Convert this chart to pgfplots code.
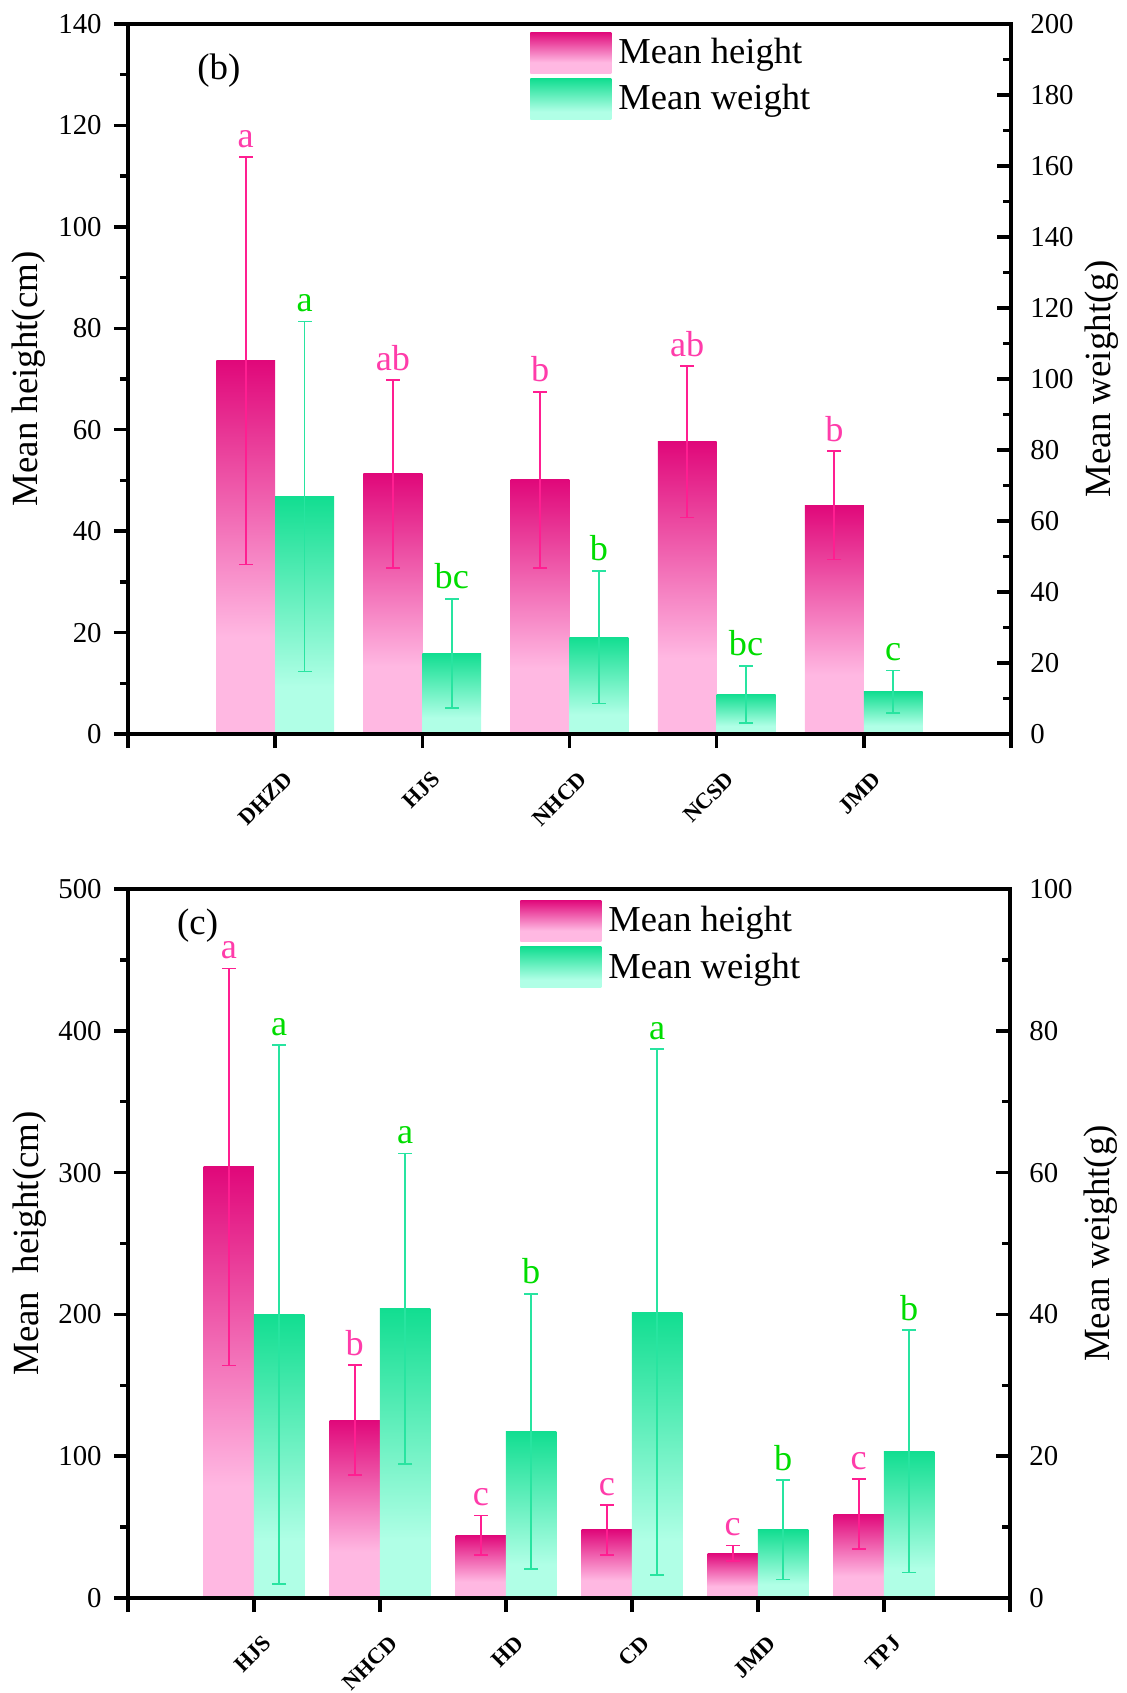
\documentclass[border=0pt]{standalone}
\usepackage{pgfplots}
\usepackage{pgfplotstable}
\pgfplotsset{compat=1.18}
\usetikzlibrary{plotmarks}
\usepackage{fontspec}
\setmainfont{Liberation Serif}

\definecolor{pinkdark}{RGB}{224,8,122}
\definecolor{pinklight}{RGB}{255,184,226}
\definecolor{greendark}{RGB}{18,222,145}
\definecolor{greenlight}{RGB}{176,255,230}
\definecolor{pinkerr}{RGB}{255,30,145}
\definecolor{greenerr}{RGB}{40,228,160}
\definecolor{pinklet}{RGB}{255,60,170}
\definecolor{greenlet}{RGB}{0,220,0}

\pgfdeclareverticalshading{pinkshade}{100bp}{color(0bp)=(pinklight); color(25bp)=(pinklight); color(38bp)=(pinklight); color(75bp)=(pinkdark); color(100bp)=(pinkdark)}
\pgfdeclareverticalshading{greenshade}{100bp}{color(0bp)=(greenlight); color(25bp)=(greenlight); color(35bp)=(greenlight); color(75bp)=(greendark); color(100bp)=(greendark)}

% panel (b)
\pgfplotstableread{
x h he w we hl wl
1 73.6 40.2 66.9 49.3 a a
2 51.3 18.5 22.7 15.4 ab bc
3 50.1 17.4 27.3 18.7 b b
4 57.6 14.9 11.2 8.0 ab bc
5 45.1 10.7 11.9 6.0 b c
}\tabB
% panel (c)
\pgfplotstableread{
x h he w we hl wl
1 304.0 140.0 40.0 38.0 a a
2 125.5 38.8 40.8 21.9 b a
3 44.3 13.8 23.5 19.4 c b
4 48.0 17.6 40.3 37.1 c a
5 31.5 5.6 9.6 7.0 c b
6 59.2 24.7 20.7 17.1 c b
}\tabC

\pgfplotsset{
  base/.style={
    scale only axis, anchor=south west,
    axis on top,
    tick align=outside,
    major tick length=0.14cm, minor tick length=0.08cm,
    every tick/.style={black, line width=1pt},
    axis line style={line width=1pt},
    yticklabel style={font=\fontsize{8.2}{9}\selectfont},
    /pgf/number format/assume math mode=true,
    label style={font=\fontsize{10.5}{12}\selectfont},
    minor y tick num=1,
  },
  leftax/.style={
    base, xtick pos=left, ytick pos=left,
    xticklabel style={xshift=0.14cm, yshift=-0.27cm, rotate=45, anchor=east, inner sep=0pt,
      font=\bfseries\fontsize{6.4}{7}\selectfont},
    ylabel style={at={(axis description cs:-0.112,0.5)}, anchor=center},
  },
  rightax/.style={
    base, axis x line*=bottom, xtick=\empty,
    axis y line*=right, ytick pos=right, tick align=inside,
    yticklabel style={xshift=0.07cm},
    ylabel style={at={(axis description cs:1.103,0.5)}, anchor=center},
    legend cell align=left,
  },
  pinkbar/.style={ybar, bar width=0.4, bar shift=-0.2, draw=none, /tikz/shade, /tikz/shading=pinkshade, forget plot},
  greenbar/.style={ybar, bar width=0.4, bar shift=0.2, draw=none, /tikz/shade, /tikz/shading=greenshade, forget plot},
  errp/.style={draw=none, mark=none, forget plot,
    error bars/.cd, y dir=both, y explicit, error mark=none,
    error bar style={draw=#1, line width=0.5pt}},
  capp/.style={#1, only marks, mark=-, mark size=2pt, mark options={line width=0.5pt}, forget plot},
  letp/.style={draw=none, mark=none, forget plot, nodes near coords, point meta=explicit symbolic,
    nodes near coords style={anchor=south, text=#1, font=\fontsize{10.3}{12}\selectfont, inner sep=0pt, yshift=2.5pt}},
  legsty/.style={legend style={at={(axis description cs:#1)}, anchor=north west, draw=none, fill=none,
    inner sep=0pt, row sep=0.02cm, font=\fontsize{10.4}{12}\selectfont}},
}

\begin{document}
\begin{tikzpicture}
\path[use as bounding box] (0,0) rectangle (11.27cm,16.93cm);

% ---------------- panel (b) ----------------
\begin{axis}[leftax, at={(1.28cm,9.59cm)}, width=8.83cm, height=7.10cm,
  xmin=0, xmax=6, ymin=0, ymax=140, ytick={0,20,...,140},
  xtick={0,...,6}, xticklabels={,DHZD,HJS,NHCD,NCSD,JMD,},
  ylabel={Mean height(cm)}]
\pgfplotsinvokeforeach{1,...,5}{
  \addplot[pinkbar, restrict x to domain=#1:#1] table[x=x, y=h] \tabB;
}
\addplot[errp=pinkerr] table[x expr=\thisrow{x}-0.2, y=h, y error=he] \tabB;
\addplot[capp=pinkerr] table[x expr=\thisrow{x}-0.2, y expr=\thisrow{h}+\thisrow{he}] \tabB;
\addplot[capp=pinkerr] table[x expr=\thisrow{x}-0.2, y expr=\thisrow{h}-\thisrow{he}] \tabB;
\addplot[letp=pinklet] table[x expr=\thisrow{x}-0.2, y expr=\thisrow{h}+\thisrow{he}, meta=hl] \tabB;
\node[font=\fontsize{10.5}{12}\selectfont] at (axis description cs:0.103,0.934) {(b)};
\end{axis}
\begin{axis}[rightax, at={(1.28cm,9.59cm)}, width=8.83cm, height=7.10cm,
  xmin=0, xmax=6, ymin=0, ymax=200, ytick={0,20,...,200},
  ylabel={Mean weight(g)}, legsty={0.455,0.9915}]
\addlegendimage{legend image code/.code={\path[draw=none, shade, shading=pinkshade] (0cm,-0.2cm) rectangle (0.81cm,0.21cm);}}
\addlegendentry{Mean height}
\addlegendimage{legend image code/.code={\path[draw=none, shade, shading=greenshade] (0cm,-0.2cm) rectangle (0.81cm,0.21cm);}}
\addlegendentry{Mean weight}
\pgfplotsinvokeforeach{1,...,5}{
  \addplot[greenbar, restrict x to domain=#1:#1] table[x=x, y=w] \tabB;
}
\addplot[errp=greenerr] table[x expr=\thisrow{x}+0.2, y=w, y error=we] \tabB;
\addplot[capp=greenerr] table[x expr=\thisrow{x}+0.2, y expr=\thisrow{w}+\thisrow{we}] \tabB;
\addplot[capp=greenerr] table[x expr=\thisrow{x}+0.2, y expr=\thisrow{w}-\thisrow{we}] \tabB;
\addplot[letp=greenlet] table[x expr=\thisrow{x}+0.2, y expr=\thisrow{w}+\thisrow{we}, meta=wl] \tabB;
\end{axis}

% ---------------- panel (c) ----------------
\begin{axis}[leftax, at={(1.28cm,0.95cm)}, width=8.82cm, height=7.09cm,
  xmin=0, xmax=7, ymin=0, ymax=500, ytick={0,100,...,500},
  xtick={0,...,7}, xticklabels={,HJS,NHCD,HD,CD,JMD,TPJ,},
  ylabel={Mean\ \ height(cm)}]
\pgfplotsinvokeforeach{1,...,6}{
  \addplot[pinkbar, restrict x to domain=#1:#1] table[x=x, y=h] \tabC;
}
\addplot[errp=pinkerr] table[x expr=\thisrow{x}-0.2, y=h, y error=he] \tabC;
\addplot[capp=pinkerr] table[x expr=\thisrow{x}-0.2, y expr=\thisrow{h}+\thisrow{he}] \tabC;
\addplot[capp=pinkerr] table[x expr=\thisrow{x}-0.2, y expr=\thisrow{h}-\thisrow{he}] \tabC;
\addplot[letp=pinklet] table[x expr=\thisrow{x}-0.2, y expr=\thisrow{h}+\thisrow{he}, meta=hl] \tabC;
\node[font=\fontsize{10.5}{12}\selectfont] at (axis description cs:0.079,0.948) {(c)};
\end{axis}
\begin{axis}[rightax, at={(1.28cm,0.95cm)}, width=8.82cm, height=7.09cm,
  xmin=0, xmax=7, ymin=0, ymax=100, ytick={0,20,...,100},
  ylabel={Mean weight(g)}, legsty={0.444,0.987}]
\addlegendimage{legend image code/.code={\path[draw=none, shade, shading=pinkshade] (0cm,-0.2cm) rectangle (0.81cm,0.21cm);}}
\addlegendentry{Mean height}
\addlegendimage{legend image code/.code={\path[draw=none, shade, shading=greenshade] (0cm,-0.2cm) rectangle (0.81cm,0.21cm);}}
\addlegendentry{Mean weight}
\pgfplotsinvokeforeach{1,...,6}{
  \addplot[greenbar, restrict x to domain=#1:#1] table[x=x, y=w] \tabC;
}
\addplot[errp=greenerr] table[x expr=\thisrow{x}+0.2, y=w, y error=we] \tabC;
\addplot[capp=greenerr] table[x expr=\thisrow{x}+0.2, y expr=\thisrow{w}+\thisrow{we}] \tabC;
\addplot[capp=greenerr] table[x expr=\thisrow{x}+0.2, y expr=\thisrow{w}-\thisrow{we}] \tabC;
\addplot[letp=greenlet] table[x expr=\thisrow{x}+0.2, y expr=\thisrow{w}+\thisrow{we}, meta=wl] \tabC;
\end{axis}
\end{tikzpicture}
\end{document}
